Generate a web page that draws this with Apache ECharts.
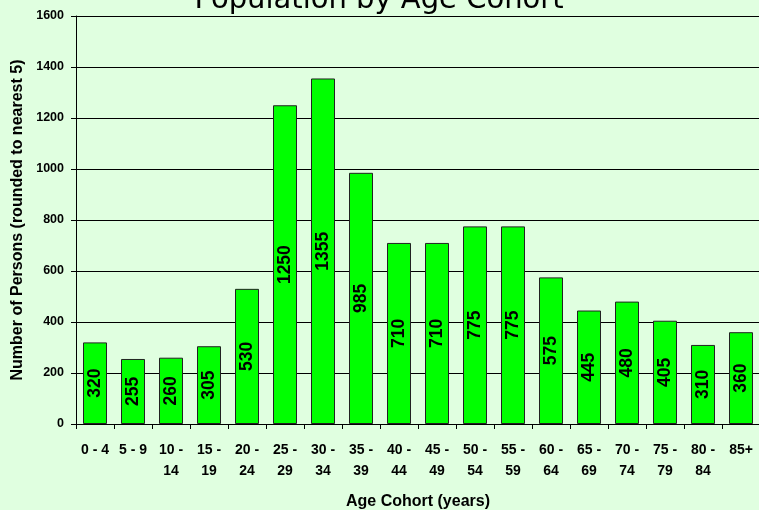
<!DOCTYPE html>
<html lang="en">
<head>
    <meta charset="UTF-8">
    <title>Population by Age Cohort</title>
    <script src="https://cdn.jsdelivr.net/npm/echarts@6/dist/echarts.min.js"></script>
    <style>
        html, body { margin: 0; padding: 0; background: #E0FFE0; }
    </style>
</head>
<body>
<div id="main" style="width: 759px;height:510px;"></div>
<script>
    var cohorts = ['0 - 4', '5 - 9', '10 -\n14', '15 -\n19', '20 -\n24', '25 -\n29', '30 -\n34', '35 -\n39',
        '40 -\n44', '45 -\n49', '50 -\n54', '55 -\n59', '60 -\n64', '65 -\n69', '70 -\n74', '75 -\n79',
        '80 -\n84', '85+'];
    var persons = [320, 255, 260, 305, 530, 1250, 1355, 985, 710, 710, 775, 775, 575, 445, 480, 405, 310, 360];
    var yTicks = [0, 1600, 200];

    var myChart = echarts.init(document.getElementById('main'));

    var option = {
        backgroundColor: '#E0FFE0',
        animation: false,
        title: {
            text: 'Population by Age Cohort',
            left: 374,
            textAlign: 'center',
            top: -19,
            textStyle: {
                fontFamily: 'DejaVu Sans',
                fontWeight: 'normal',
                fontSize: 29,
                color: '#000'
            }
        },
        grid: {
            left: 76,
            right: -1,
            top: 16,
            bottom: 86,
            containLabel: false,
            outerBoundsMode: 'none'
        },
        xAxis: {
            type: 'category',
            data: cohorts,
            name: 'Age Cohort (years)',
            nameLocation: 'middle',
            nameGap: 70,
            nameTextStyle: {
                fontFamily: 'Liberation Sans',
                fontWeight: 'bold',
                fontSize: 16,
                color: '#000'
            },
            axisLine: { lineStyle: { color: '#000', width: 1 } },
            axisTick: { show: true, length: 5, lineStyle: { color: '#000' } },
            axisLabel: {
                margin: 16,
                interval: 0,
                fontFamily: 'Liberation Sans',
                fontWeight: 'bold',
                fontSize: 14,
                lineHeight: 21,
                color: '#000'
            }
        },
        yAxis: {
            type: 'value',
            min: yTicks[0],
            max: yTicks[1],
            interval: yTicks[2],
            name: 'Number of Persons (rounded to nearest 5)',
            nameLocation: 'middle',
            nameGap: 49,
            nameTextStyle: {
                fontFamily: 'Liberation Sans',
                fontWeight: 'bold',
                fontSize: 16,
                color: '#000'
            },
            axisLine: { show: true, lineStyle: { color: '#000' } },
            axisTick: { show: true, length: 5, lineStyle: { color: '#000' } },
            splitLine: { lineStyle: { color: '#000', width: 1 } },
            axisLabel: {
                margin: 12,
                formatter: function (v) { return String(v); },
                fontFamily: 'Liberation Sans',
                fontWeight: 'bold',
                fontSize: 12.5,
                color: '#000'
            }
        },
        series: [{
            type: 'bar',
            data: persons,
            barWidth: 24,
            itemStyle: {
                color: '#00FF00',
                borderColor: '#222',
                borderWidth: 1
            },
            label: {
                show: true,
                position: 'inside',
                rotate: 90,
                fontFamily: 'Liberation Sans',
                fontWeight: 'bold',
                fontSize: 17.5,
                color: '#000'
            }
        }]
    };

    myChart.setOption(option);
</script>
</body>
</html>
